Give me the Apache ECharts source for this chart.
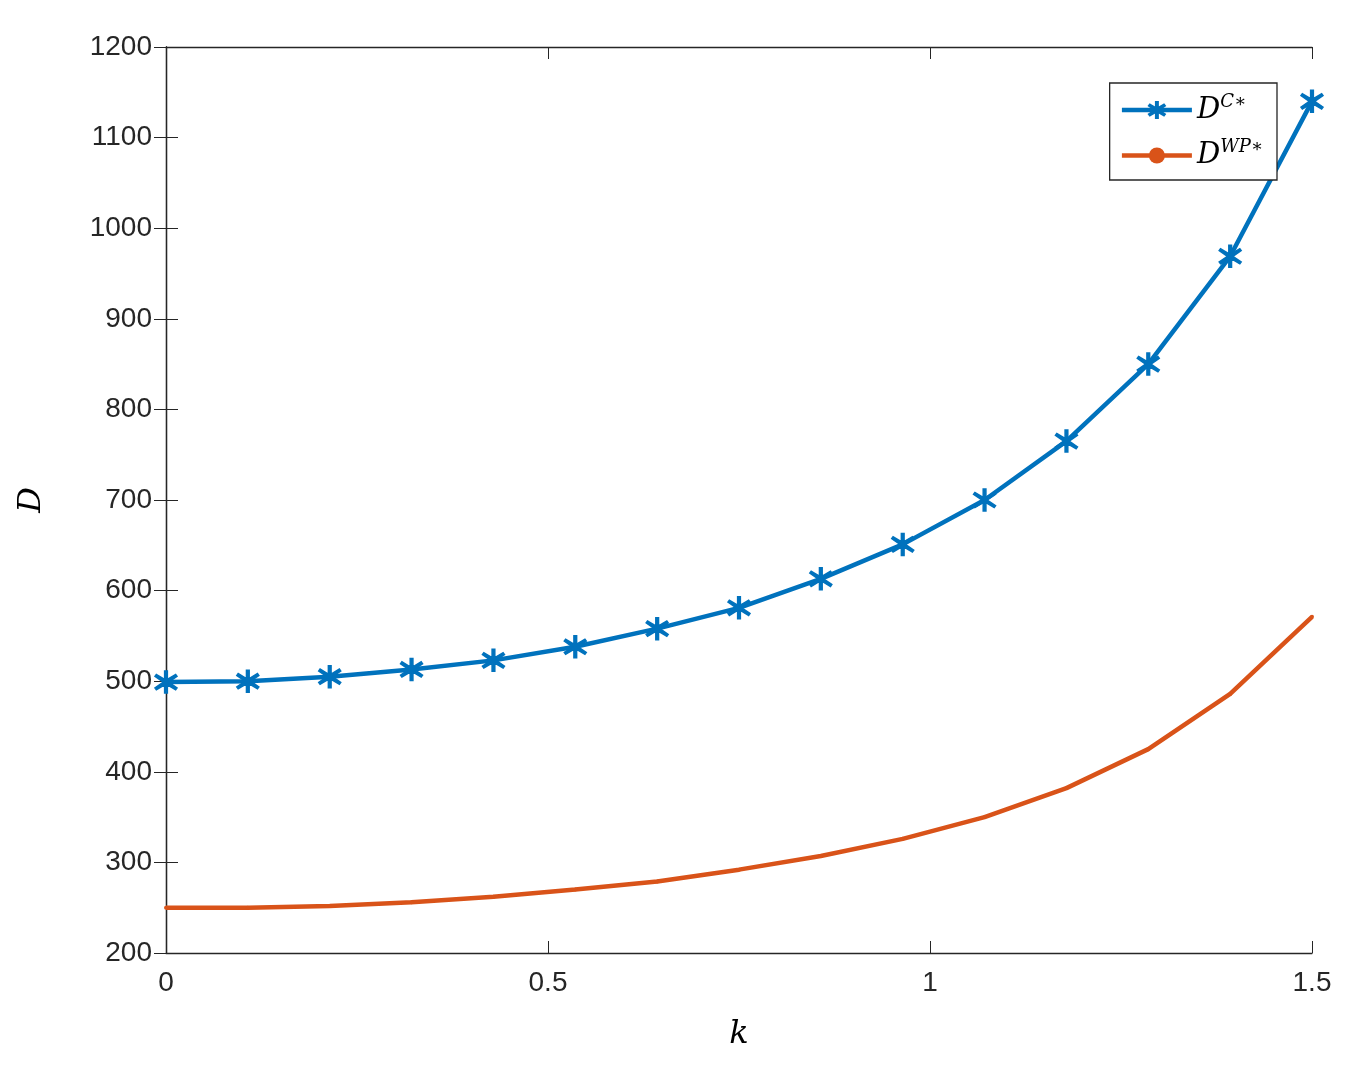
<!DOCTYPE html>
<html><head><meta charset="utf-8">
<script src="https://cdn.jsdelivr.net/npm/echarts@6/dist/echarts.min.js"></script>
<style>html,body{margin:0;background:#fff}#c{width:1364px;height:1078px}</style>
</head><body><div id="c"></div>
<script>
// k values: 15 evenly spaced points from 0 to 1.5
const kValues = [0, 0.1071, 0.2143, 0.3214, 0.4286, 0.5357, 0.6429, 0.75, 0.8571, 0.9643, 1.0714, 1.1786, 1.2857, 1.3929, 1.5];
const dC = [499, 500, 505, 513, 523, 538, 558, 581, 613, 651, 700, 765, 850, 969, 1140];
const dWP = [250, 250, 252, 256, 262, 270, 279, 292, 307, 326, 350, 382, 425, 486, 571];

const chart = echarts.init(document.getElementById('c'));
const axisFont = {fontFamily: 'Liberation Sans, Arial', fontSize: 28, color: '#262626'};
const lineAx = {lineStyle: {color: '#262626', width: 1.3}};
const tick = {inside: true, length: 12, lineStyle: {color: '#262626'}};
const pair = (ys) => kValues.map((k, i) => [k, ys[i]]);
const star = 'path://M-1,-10L1,-10L1,-2.4L7.1,-6.9L8.1,-5.2L2,0L8.1,5.2L7.1,6.9L1,2.4L1,10L-1,10L-1,2.4L-7.1,6.9L-8.1,5.2L-2,0L-8.1,-5.2L-7.1,-6.9L-1,-2.4Z';

chart.setOption({
  animation: false,
  grid: {left: 166, right: 52, top: 47, bottom: 125},
  legend: {
    right: 87, top: 83, orient: 'vertical', itemWidth: 70, itemHeight: 20, itemGap: 14,
    backgroundColor: '#fff', borderColor: '#262626', borderWidth: 1.3, padding: [10, 14, 10, 10],
    lineStyle: {width: 4.5},
    textStyle: {fontFamily: 'DejaVu Serif', fontStyle: 'italic', fontSize: 29, color: '#000',
      rich: {s: {fontSize: 18, fontStyle: 'italic', fontFamily: 'DejaVu Serif', verticalAlign: 'top', padding: [0, 0, 16, 0]}}},
    formatter: (n) => n === 'C' ? 'D{s|C∗}' : 'D{s|WP∗}',
    data: ['C', 'WP']
  },
  xAxis: [{
    type: 'value', min: 0, max: 1.5, interval: 0.5,
    axisLine: lineAx, axisTick: tick, splitLine: {show: false},
    axisLabel: Object.assign({margin: 16}, axisFont),
    name: 'k', nameLocation: 'middle', nameGap: 66,
    nameTextStyle: {fontFamily: 'DejaVu Serif', fontStyle: 'italic', fontSize: 32, color: '#000'}
  }, {
    type: 'value', position: 'top', min: 0, max: 1.5, interval: 0.5,
    axisLine: lineAx, axisTick: tick, axisLabel: {show: false}, splitLine: {show: false}
  }],
  yAxis: [{
    type: 'value', min: 200, max: 1200, interval: 100,
    axisLine: lineAx, axisTick: tick, splitLine: {show: false},
    axisLabel: Object.assign({margin: 14, formatter: (v) => String(v)}, axisFont),
    name: 'D', nameLocation: 'middle', nameGap: 118, nameRotate: 90,
    nameTextStyle: {fontFamily: 'DejaVu Serif', fontStyle: 'italic', fontSize: 32, color: '#000'}
  }, {
    type: 'value', position: 'right', min: 200, max: 1200, interval: 100,
    axisLine: lineAx, axisTick: tick, axisLabel: {show: false}, splitLine: {show: false}
  }],
  series: [{
    name: 'C', type: 'line', data: pair(dC), color: '#0072BD',
    lineStyle: {width: 4.5}, symbol: star, symbolSize: 22,
    itemStyle: {color: '#0072BD', borderColor: '#0072BD', borderWidth: 1.5}
  }, {
    name: 'WP', type: 'line', data: pair(dWP), color: '#D95319',
    lineStyle: {width: 4.5}, symbol: 'circle', symbolSize: 4,
    itemStyle: {color: '#D95319'}
  }]
});
</script></body></html>
